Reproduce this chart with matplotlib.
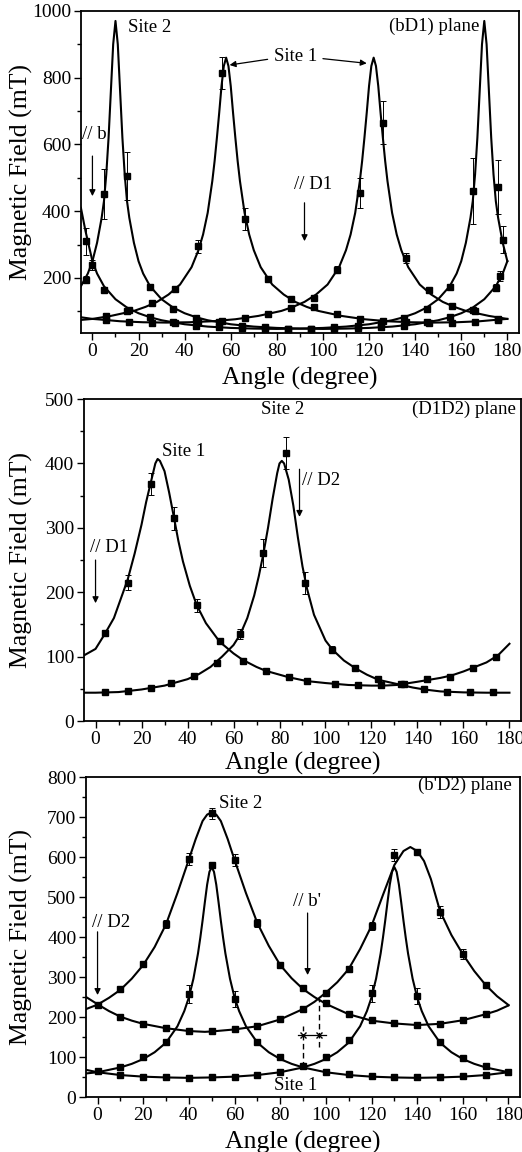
import matplotlib
matplotlib.use("Agg")
import matplotlib.pyplot as plt
from matplotlib.ticker import MultipleLocator

plt.rcParams['font.family'] = ['Liberation Serif', 'DejaVu Serif']

# ---------------- (bD1) plane ----------------
# fitted curves, site 1 (two inequivalent ions) and site 2
p1_ang_1a = [-5, 0, 8, 18, 23, 28, 33, 38, 43, 46, 48, 50, 52, 53, 54, 55, 56, 57, 58, 59,
             60, 61, 62, 63, 64, 66, 68, 70, 73, 78, 83, 88, 93, 98, 108, 118, 128, 138, 148, 158,
             168, 178, 180]
p1_val_1a = [74, 77, 86, 101, 113, 128, 150, 180, 232, 283, 330, 395, 490, 550, 620, 695, 775, 835, 860, 835,
             775, 695, 620, 550, 490, 395, 330, 283, 232, 180, 150, 128, 113, 101, 86, 76, 70, 67, 66, 67,
             70, 76, 77]
p1_ang_1b = [-5, 0, 2, 12, 22, 32, 42, 52, 62, 72, 82, 87, 92, 97, 102, 107, 110, 112, 114, 116,
             117, 118, 119, 120, 121, 122, 123, 124, 125, 126, 127, 128, 130, 132, 134, 137, 142, 147, 152, 157,
             162, 172, 180]
p1_val_1b = [82, 77, 76, 70, 67, 66, 67, 70, 76, 86, 101, 113, 128, 150, 180, 232, 283, 330, 395, 490,
             550, 620, 695, 775, 835, 860, 835, 775, 695, 620, 550, 490, 395, 330, 283, 232, 180, 150, 128, 113,
             101, 86, 77]
p1_ang_2a = [-5, -2, 0, 2, 4, 5, 6, 7, 8, 9, 10, 11, 12, 13, 14, 15, 16, 18, 20, 22,
             25, 30, 35, 40, 45, 50, 60, 70, 80, 90, 100, 110, 120, 130, 140, 150, 155, 160, 165, 170,
             175, 178, 180]
p1_val_2a = [175, 213, 250, 305, 380, 430, 510, 620, 760, 900, 970, 900, 760, 620, 510, 430, 380, 305, 250, 213,
             175, 136, 111, 94, 82, 73, 61, 54, 50, 48, 47, 48, 50, 54, 61, 73, 82, 94, 111, 136,
             175, 213, 250]
p1_ang_2b = [-5, -3, 0, 2, 5, 10, 15, 20, 25, 30, 40, 50, 60, 70, 80, 90, 100, 110, 120, 130,
             135, 140, 145, 150, 155, 158, 160, 162, 164, 165, 166, 167, 168, 169, 170, 171, 172, 173, 174, 175,
             176, 178, 180]
p1_val_2b = [410, 340, 250, 213, 175, 136, 111, 94, 82, 73, 61, 54, 50, 48, 47, 48, 50, 54, 61, 73,
             82, 94, 111, 136, 175, 213, 250, 305, 380, 430, 510, 620, 760, 900, 970, 900, 760, 620, 510, 430,
             380, 305, 250]

# measured points with error bars
p1_mk_1_ang = [6, 16, 26, 36, 46, 56, 66, 76, 86, 96, 106, 116, 126, 136, 146, 156, 166, 176]
p1_mk_1a_val = [85, 105, 125, 168, 295, 813, 375, 197, 138, 113, 92, 78, 70, 67, 66, 66, 69, 75]
p1_mk_1a_err = [4, 5, 6, 8, 20, 48, 33, 8, 6, 5, 4, 4, 4, 4, 4, 4, 4, 4]
p1_mk_1b_val = [74, 69, 66, 66, 68, 72, 79, 92, 111, 141, 225, 455, 665, 260, 163, 117, 100, 78]
p1_mk_1b_err = [4, 4, 4, 4, 4, 4, 4, 5, 6, 6, 10, 45, 65, 15, 8, 6, 5, 4]
p1_mk_2a_ang = [-3, 5, 15, 25, 35, 45, 55, 65, 75, 85, 95, 105, 115, 125, 135, 145, 155, 165, 175, 177]
p1_mk_2a_val = [195, 450, 505, 174, 108, 81, 67, 57, 52, 48, 47, 47, 49, 52, 57, 67, 82, 105, 171, 205]
p1_mk_2a_err = [10, 75, 73, 8, 5, 4, 4, 4, 4, 4, 4, 4, 4, 4, 4, 4, 4, 6, 10, 15]
p1_mk_2b_ang = [-3, 0, 5, 15, 25, 35, 45, 55, 65, 75, 85, 95, 105, 115, 125, 135, 145, 155, 165, 176, 178]
p1_mk_2b_val = [310, 240, 165, 100, 82, 67, 57, 52, 49, 47, 47, 48, 52, 57, 66, 81, 108, 174, 460, 472, 315]
p1_mk_2b_err = [40, 15, 6, 5, 4, 4, 4, 4, 4, 4, 4, 4, 4, 4, 4, 4, 5, 8, 100, 80, 40]

# ---------------- (D1D2) plane ----------------
p2_ang_s1 = [-5, 0, 4, 8, 11, 14, 17, 20, 22, 24, 26, 27, 28, 30, 32, 34, 36, 38, 41, 44,
             48, 54, 60, 64, 70, 74, 80, 84, 92, 100, 110, 120, 125, 131, 140, 145, 150, 155, 160, 165,
             170, 175, 180]
p2_val_s1 = [102, 112, 135, 160, 190, 220, 260, 305, 340, 370, 400, 407, 404, 388, 355, 318, 280, 248, 210, 180,
             152, 123, 105, 95, 84, 78, 72, 68, 62, 59, 56, 55, 55, 56, 61, 64, 67, 71, 77, 84,
             91, 102, 120]
p2_ang_s2 = [-5, 0, 10, 20, 30, 40, 45, 50, 55, 60, 63, 66, 69, 71, 73, 75, 77, 79, 80, 81,
             82, 84, 86, 88, 90, 92, 95, 100, 103, 108, 113, 118, 123, 128, 133, 138, 143, 150, 160, 170,
             180]
p2_val_s2 = [44, 44, 45, 49, 55, 65, 73, 84, 100, 118, 135, 160, 195, 225, 260, 300, 345, 385, 400, 404,
             400, 375, 335, 285, 240, 205, 165, 125, 111, 94, 82, 72, 64, 60, 56, 52, 49, 46, 44.5, 44,
             44]

p2_mk_s1_ang = [4, 14, 24, 34, 44, 54, 64, 74, 84, 92, 104, 114, 124, 134, 144, 154, 164, 174]
p2_mk_s1_val = [137, 215, 368, 315, 180, 124, 93, 77, 68, 62, 57, 56, 56, 57, 65, 68, 83, 100]
p2_mk_s1_err = [5, 12, 17, 18, 10, 5, 4, 4, 3, 3, 3, 3, 3, 3, 3, 3, 3, 4]
p2_mk_s2_ang = [4, 14, 24, 33, 43, 53, 63, 73, 83, 91, 103, 113, 123, 133, 143, 153, 163, 173]
p2_mk_s2_val = [44.5, 46, 52, 58.5, 70, 90.5, 135, 261, 416, 214, 111, 82, 65, 57, 49, 45.5, 44.6, 44.6]
p2_mk_s2_err = [3, 3, 3, 3, 3, 4, 8, 22, 25, 17, 5, 4, 3, 3, 3, 3, 3, 3]

# ---------------- (b'D2) plane ----------------
p3_ang_s1a = [-5, 0, 10, 15, 20, 25, 30, 35, 38, 40, 42, 44, 45, 46, 47, 48, 49, 50, 51, 52,
              53, 54, 55, 56, 58, 60, 62, 65, 70, 75, 80, 85, 90, 100, 110, 120, 130, 140, 150, 160,
              170, 180]
p3_val_s1a = [59, 62, 74, 83, 95, 112, 136, 177, 215, 249, 296, 359, 398, 441, 487, 531, 563, 575, 563, 531,
              487, 441, 398, 359, 296, 249, 215, 177, 136, 112, 95, 83, 74, 62, 55, 51, 49, 48, 49, 51,
              55, 62]
p3_ang_s1b = [-5, 0, 10, 20, 30, 40, 50, 60, 70, 80, 90, 95, 100, 105, 110, 115, 118, 120, 122, 124,
              125, 126, 127, 128, 129, 130, 131, 132, 133, 134, 135, 136, 138, 140, 142, 145, 150, 155, 160, 165,
              170, 180]
p3_val_s1b = [68, 62, 55, 51, 49, 48, 49, 51, 55, 62, 74, 83, 95, 112, 136, 177, 215, 249, 296, 359,
              398, 441, 487, 531, 563, 575, 563, 531, 487, 441, 398, 359, 296, 249, 215, 177, 136, 112, 95, 83,
              74, 62]
p3_ang_s2a = [-5, 0, 5, 10, 15, 20, 25, 30, 35, 40, 43, 46, 48, 50, 52, 54, 57, 60, 65, 70,
              75, 80, 85, 90, 95, 100, 110, 120, 130, 140, 150, 160, 170, 175, 180]
p3_val_s2a = [220, 231, 248, 268, 296, 330, 375, 432, 510, 594, 645, 690, 706, 712, 706, 690, 645, 593, 510, 435,
              378, 330, 297, 270, 250, 233, 207, 191, 184, 180, 183, 192, 207, 216, 229]
p3_ang_s2b = [-5, 0, 5, 10, 15, 20, 30, 40, 47, 50, 60, 70, 80, 90, 95, 100, 105, 110, 115, 120,
              125, 130, 134, 137, 140, 143, 146, 150, 155, 160, 165, 170, 175, 180]
p3_val_s2b = [250, 232, 215, 201, 191, 183, 172, 165, 163, 164, 169, 177, 194, 220, 238, 261, 287, 320, 370, 428,
              505, 580, 615, 625, 615, 590, 545, 465, 405, 357, 315, 280, 252, 230]

p3_mk_s2a_ang = [0, 10, 20, 30, 40, 50, 60, 70, 80, 90, 100, 110, 120, 130, 140, 150, 160, 170]
p3_mk_s2a_val = [230, 269, 332, 432, 594, 709, 593, 434, 330, 272, 235, 207, 192, 184, 180, 183, 193, 207]
p3_mk_s2a_err = [6, 5, 6, 10, 15, 14, 15, 10, 6, 5, 5, 4, 4, 4, 4, 4, 4, 4]
p3_mk_s2b_ang = [10, 20, 30, 40, 50, 60, 70, 80, 90, 100, 110, 120, 130, 140, 150, 160, 170]
p3_mk_s2b_val = [201, 183, 172, 164, 164, 169, 177, 194, 220, 261, 320, 428, 605, 613, 463, 357, 280]
p3_mk_s2b_err = [4, 4, 4, 4, 4, 4, 4, 4, 5, 6, 8, 10, 15, 6, 15, 12, 5]
p3_mk_s1a_ang = [10, 20, 30, 40, 50, 60, 70, 80, 90, 100, 110, 120, 130, 140, 150, 160, 170, 180]
p3_mk_s1a_val = [76, 99, 138, 257, 580, 244, 138, 99, 77, 63, 57, 53, 51, 50, 50, 52, 56, 63]
p3_mk_s1a_err = [3, 3, 5, 22, 5, 20, 5, 3, 3, 3, 3, 3, 3, 3, 3, 3, 3, 3]
p3_mk_s1b_ang = [0, 10, 20, 30, 40, 50, 60, 70, 80, 100, 110, 120, 140, 150, 160, 170]
p3_mk_s1b_val = [65, 55, 51, 49, 48, 49, 51, 55, 63, 99, 143, 259, 252, 138, 97, 78]
p3_mk_s1b_err = [3, 3, 3, 3, 3, 3, 3, 3, 3, 3, 6, 22, 20, 5, 3, 3]

# crossing construction in the (b'D2) panel
p3_dash1_ang = [90, 90]
p3_dash1_val = [75, 178]
p3_dash2_ang = [97, 97]
p3_dash2_val = [125, 245]
p3_bar_ang = [88, 90, 97, 100]
p3_bar_val = [155, 155, 155, 155]

TICK_FS = 14
LABEL_FS = 18.5
NOTE_FS = 13.5


def style_axis(ax, ylim, ymajor, yminor, ylab_x, xlab_y):
    """Common axis look: limits, ticks, spines and labels."""
    ax.set_xlim(-5, 185)
    ax.set_ylim(*ylim)
    ax.xaxis.set_major_locator(MultipleLocator(20))
    ax.xaxis.set_minor_locator(MultipleLocator(10))
    ax.yaxis.set_major_locator(MultipleLocator(ymajor))
    ax.yaxis.set_minor_locator(MultipleLocator(yminor))
    ax.tick_params(which='both', direction='out', top=False, right=False,
                   labelsize=TICK_FS, width=1.0, pad=2)
    ax.tick_params(which='major', length=5)
    ax.tick_params(which='minor', length=3)
    for sp in ax.spines.values():
        sp.set_linewidth(1.3)
    ax.set_xlabel('Angle (degree)', fontsize=LABEL_FS)
    ax.set_ylabel('Magnetic Field (mT)', fontsize=LABEL_FS)
    ax.yaxis.set_label_coords(ylab_x, 0.5)
    ax.xaxis.set_label_coords(0.5, xlab_y)


def draw_lines(ax, curves):
    for ang, val in curves:
        ax.plot(ang, val, color='k', lw=1.5, zorder=2)


def draw_points(ax, points):
    for ang, val, err in points:
        ax.errorbar(ang, val, yerr=err, fmt='s', color='k', ms=4.3,
                    elinewidth=0.7, capsize=2.5, capthick=0.7, zorder=3)


def arrow(ax, start, end):
    ax.annotate('', xy=end, xytext=start,
                arrowprops=dict(arrowstyle='-|>', color='k', lw=0.9,
                                mutation_scale=9, shrinkA=0, shrinkB=0))


fig = plt.figure(figsize=(5.22, 11.52), dpi=100)

# panel 1
ax1 = fig.add_axes([0.155, 0.711, 0.839, 0.2795])
draw_lines(ax1, [(p1_ang_1a, p1_val_1a), (p1_ang_1b, p1_val_1b),
                 (p1_ang_2a, p1_val_2a), (p1_ang_2b, p1_val_2b)])
draw_points(ax1, [(p1_mk_1_ang, p1_mk_1a_val, p1_mk_1a_err),
                  (p1_mk_1_ang, p1_mk_1b_val, p1_mk_1b_err),
                  (p1_mk_2a_ang, p1_mk_2a_val, p1_mk_2a_err),
                  (p1_mk_2b_ang, p1_mk_2b_val, p1_mk_2b_err)])
style_axis(ax1, (35, 1000), 200, 100, -0.11, -0.105)
ax1.text(15.5, 950, 'Site 2', fontsize=NOTE_FS, va='center')
ax1.text(168, 955, '(bD1) plane', fontsize=NOTE_FS, va='center', ha='right')
ax1.text(88, 862, 'Site 1', fontsize=NOTE_FS, va='center', ha='center')
arrow(ax1, (76, 855), (59.5, 838))
arrow(ax1, (100, 857), (119, 843))
ax1.text(-4.5, 630, '// b', fontsize=NOTE_FS, va='center')
arrow(ax1, (0, 565), (0, 445))
ax1.text(87.5, 480, '// D1', fontsize=NOTE_FS, va='center')
arrow(ax1, (92, 425), (92, 310))

# panel 2
ax2 = fig.add_axes([0.161, 0.3741, 0.837, 0.2795])
draw_lines(ax2, [(p2_ang_s1, p2_val_s1), (p2_ang_s2, p2_val_s2)])
draw_points(ax2, [(p2_mk_s1_ang, p2_mk_s1_val, p2_mk_s1_err),
                  (p2_mk_s2_ang, p2_mk_s2_val, p2_mk_s2_err)])
style_axis(ax2, (0, 500), 100, 50, -0.117, -0.095)
ax2.text(29, 418, 'Site 1', fontsize=NOTE_FS, va='center')
ax2.text(81.5, 484, 'Site 2', fontsize=NOTE_FS, va='center', ha='center')
ax2.text(183, 484, '(D1D2) plane', fontsize=NOTE_FS, va='center', ha='right')
ax2.text(-2.5, 269, '// D1', fontsize=NOTE_FS, va='center')
arrow(ax2, (0, 250), (0, 183))
ax2.text(89.8, 373, '// D2', fontsize=NOTE_FS, va='center')
arrow(ax2, (88.7, 391), (88.7, 317))

# panel 3
ax3 = fig.add_axes([0.165, 0.0477, 0.831, 0.2778])
draw_lines(ax3, [(p3_ang_s1a, p3_val_s1a), (p3_ang_s1b, p3_val_s1b),
                 (p3_ang_s2a, p3_val_s2a), (p3_ang_s2b, p3_val_s2b)])
draw_points(ax3, [(p3_mk_s2a_ang, p3_mk_s2a_val, p3_mk_s2a_err),
                  (p3_mk_s2b_ang, p3_mk_s2b_val, p3_mk_s2b_err),
                  (p3_mk_s1a_ang, p3_mk_s1a_val, p3_mk_s1a_err),
                  (p3_mk_s1b_ang, p3_mk_s1b_val, p3_mk_s1b_err)])
ax3.plot(p3_dash1_ang, p3_dash1_val, color='k', lw=1.0, ls=(0, (4, 2.5)))
ax3.plot(p3_dash2_ang, p3_dash2_val, color='k', lw=1.0, ls=(0, (4, 2.5)))
ax3.plot(p3_bar_ang, p3_bar_val, color='k', lw=0.9, marker='x', ms=4,
         markevery=[1, 2])
style_axis(ax3, (0, 800), 100, 50, -0.122, -0.105)
ax3.text(53, 735, 'Site 2', fontsize=NOTE_FS, va='center')
ax3.text(181.5, 778, "(b'D2) plane", fontsize=NOTE_FS, va='center', ha='right')
ax3.text(86.7, 30, 'Site 1', fontsize=NOTE_FS, va='center', ha='center')
ax3.text(-2.6, 437, '// D2', fontsize=NOTE_FS, va='center')
arrow(ax3, (0, 413), (0, 255))
ax3.text(85.4, 490, "// b'", fontsize=NOTE_FS, va='center')
arrow(ax3, (92, 460), (92, 305))

fig.savefig('out.png', dpi=100)
